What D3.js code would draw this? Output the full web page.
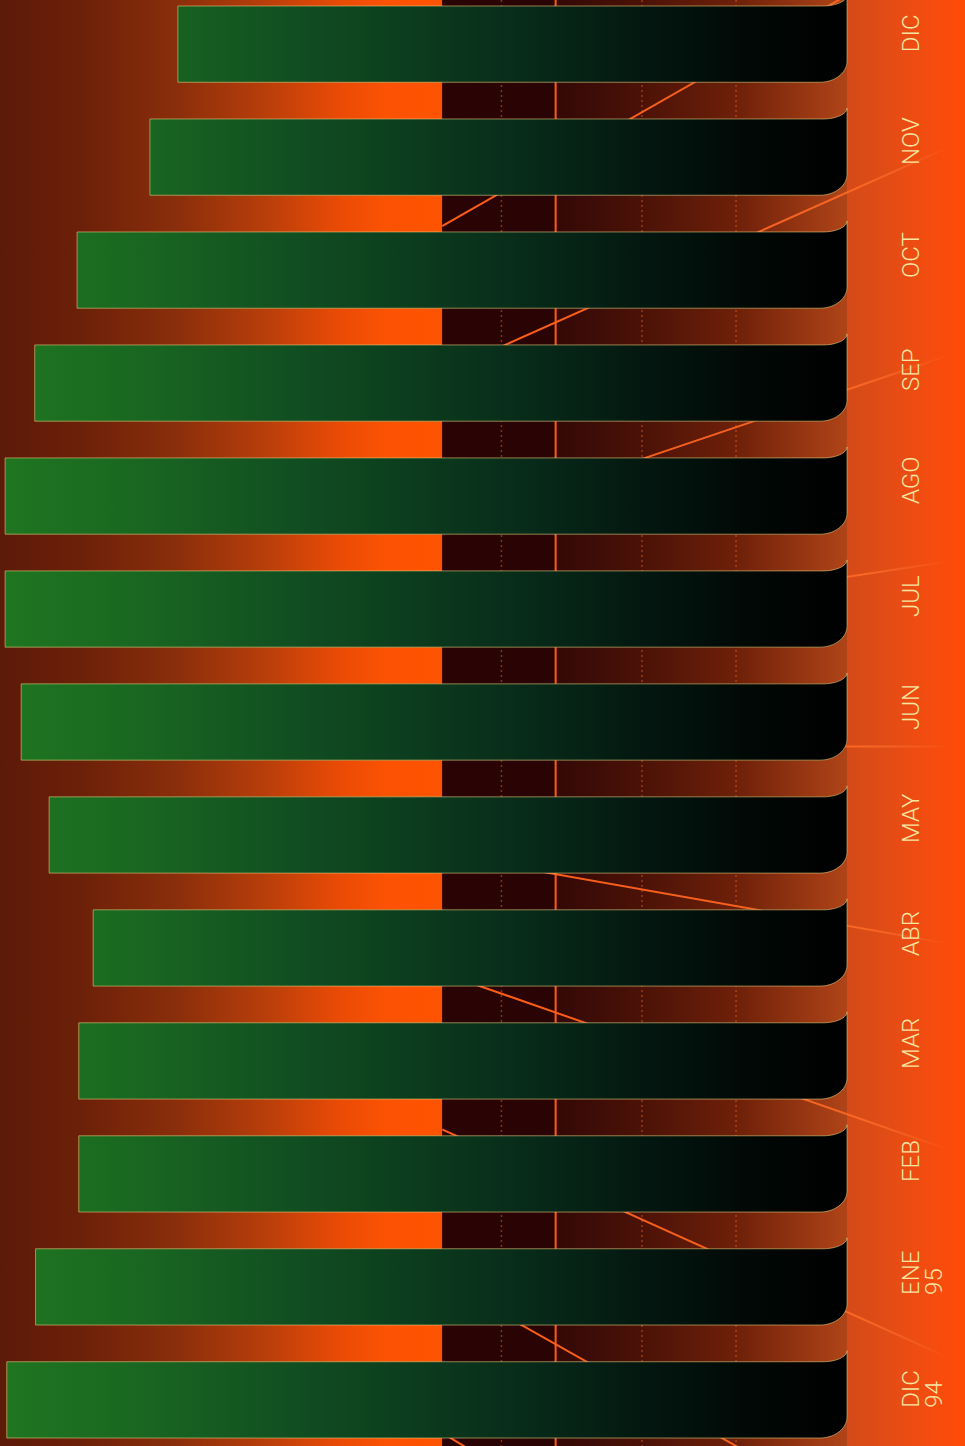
<!DOCTYPE html>
<html><head><meta charset="utf-8">
<script src="https://cdn.jsdelivr.net/npm/d3@7"></script>
<style>html,body{margin:0;padding:0;background:#d04414;overflow:hidden}</style>
</head><body>
<svg id="chart" width="965" height="1446"></svg>
<script>
// ---- data (top to bottom as drawn) ----
const categories = ["DIC","NOV","OCT","SEP","AGO","JUL","JUN","MAY","ABR","MAR","FEB","ENE 95","DIC 94"];
const values     = [79.0, 82.3, 90.9, 95.9, 99.4, 99.4, 97.5, 94.2, 89.0, 90.7, 90.7, 95.8, 99.2];
const tickLabels = [["DIC"],["NOV"],["OCT"],["SEP"],["AGO"],["JUL"],["JUN"],["MAY"],["ABR"],["MAR"],["FEB"],["ENE","95"],["DIC","94"]];
// background zones / grid (value units)
const darkBandFrom = 47.8, darkBandTo = 34.4;
const solidGrid = [34.4];
const dottedGrid = [40.8, 24.2, 13.1];
// decorative rays: value at start / end, and month-index position at start / end
const rayValues = [47.8, -11.6];
const rayStartIdx = [1.611, 2.911, 4.270, 5.259, 6.217, 7.170, 8.221, 9.606, 10.941, 12.293];
const rayEndIdx   = [-0.928, 0.926, 2.765, 4.583, 6.217, 7.957, 9.775, 11.614, 13.453, 14.968];

const W = 965, H = 1446;
const svg = d3.select("#chart");
const defs = svg.append("defs");

const x = d3.scaleLinear().domain([0, 100]).range([847, 0]);
const y = d3.scaleBand().domain(categories).range([6, 1438]).paddingInner(0.325).paddingOuter(0);
const bw = y.bandwidth();
const yIdx = d3.scaleLinear().domain([0, categories.length - 1])
  .range([y(categories[0]) + bw / 2, y(categories[categories.length - 1]) + bw / 2]);
const xr = x(0);

function grad(id, stops, x1, x2) {
  const g = defs.append("linearGradient").attr("id", id).attr("gradientUnits", "userSpaceOnUse")
    .attr("x1", x1).attr("x2", x2).attr("y1", 0).attr("y2", 0);
  stops.forEach(s => g.append("stop").attr("offset", s[0]).attr("stop-color", s[1]).attr("stop-opacity", s[2] == null ? 1 : s[2]));
}
const xDark0 = x(darkBandFrom), xDark1 = x(darkBandTo);
grad("leftBg", [[0,"#5c1a08"],[0.18,"#6c2009"],[0.4,"#8a2e0b"],[0.6,"#b83e0a"],[0.76,"#e84a06"],[0.87,"#fb5203"],[1,"#ff5300"]], 0, xDark0);
grad("midBg", [[0,"#330806"],[0.3,"#4c1207"],[0.62,"#6e2009"],[1,"#b04418"]], xDark1, xr);
grad("margin", [[0,"#d44a18"],[0.3,"#e04c16"],[0.7,"#f44c10"],[1,"#ff4a06"]], xr, W);
grad("barFill", [[0,"#1f7620"],[0.17,"#196621"],[0.35,"#114e21"],[0.52,"#0b381d"],[0.65,"#072718"],[0.77,"#03160f"],[0.89,"#010805"],[1,"#000000"]], 0, xr);
grad("rayStroke", [[0,"#ff5c16",1],[0.82,"#ff6a26",0.9],[1,"#ff7a3a",0]], xDark0, 950);

// background zones
svg.append("rect").attr("x", 0).attr("y", 0).attr("width", xDark0).attr("height", H).attr("fill", "url(#leftBg)");
svg.append("rect").attr("x", xDark0).attr("y", 0).attr("width", xDark1 - xDark0).attr("height", H).attr("fill", "#2a0404");
svg.append("rect").attr("x", xDark1).attr("y", 0).attr("width", xr - xDark1).attr("height", H).attr("fill", "url(#midBg)");
svg.append("rect").attr("x", xr).attr("y", 0).attr("width", W - xr).attr("height", H).attr("fill", "url(#margin)");

// grid lines
svg.append("g").selectAll("line").data(dottedGrid).join("line")
  .attr("x1", d => x(d)).attr("x2", d => x(d)).attr("y1", 0).attr("y2", H)
  .attr("stroke", "#ff6a20").attr("stroke-width", 1.5).attr("stroke-dasharray", "2,3").attr("opacity", 0.45);
svg.append("g").selectAll("line").data(solidGrid).join("line")
  .attr("x1", d => x(d)).attr("x2", d => x(d)).attr("y1", 0).attr("y2", H)
  .attr("stroke", "#ff5a10").attr("stroke-width", 2);

// rays
defs.append("clipPath").attr("id", "rayClip").append("rect")
  .attr("x", xDark0).attr("y", 0).attr("width", 945 - xDark0).attr("height", H);
const rays = rayStartIdx.map((s, i) => [[rayValues[0], s], [rayValues[1], rayEndIdx[i]]]);
const line = d3.line().x(d => x(d[0])).y(d => yIdx(d[1]));
svg.append("g").attr("clip-path", "url(#rayClip)").selectAll("path").data(rays).join("path")
  .attr("d", line).attr("fill", "none").attr("stroke", "url(#rayStroke)").attr("stroke-width", 2);

// bars
const rxT = 24, ryT = 11, rxB = 27, ryB = 21, k = 0.55;
function barPath(v, cat) {
  const t = y(cat), b = t + bw, xl = x(v);
  const p = d3.path();
  p.moveTo(xl, t);
  p.lineTo(xr - rxT, t);
  p.bezierCurveTo(xr - rxT + rxT * k, t, xr, t - ryT + ryT * k, xr, t - ryT);
  p.lineTo(xr, b - ryB);
  p.bezierCurveTo(xr, b - ryB + ryB * k, xr - rxB + rxB * k, b, xr - rxB, b);
  p.lineTo(xl, b);
  p.closePath();
  return p.toString();
}
svg.append("g").selectAll("path").data(categories).join("path")
  .attr("d", (c, i) => barPath(values[i], c))
  .attr("fill", "url(#barFill)")
  .attr("stroke", "#e0c87a").attr("stroke-opacity", 0.6).attr("stroke-width", 1);

// labels
const lab = svg.append("g").selectAll("text").data(categories).join("text")
  .attr("transform", c => `translate(919,${y(c) + bw / 2 + 8}) rotate(-90)`)
  .attr("text-anchor", "start")
  .attr("font-family", "Roboto, 'Open Sans', sans-serif")
  .attr("font-weight", 300)
  .attr("font-size", 24)
  .attr("fill", "#f6e6a2");
lab.each(function(c, i) {
  const t = d3.select(this);
  tickLabels[i].forEach((s, j) => t.append("tspan").attr("x", 0).attr("y", j * 23).text(s));
});
</script>
</body></html>
